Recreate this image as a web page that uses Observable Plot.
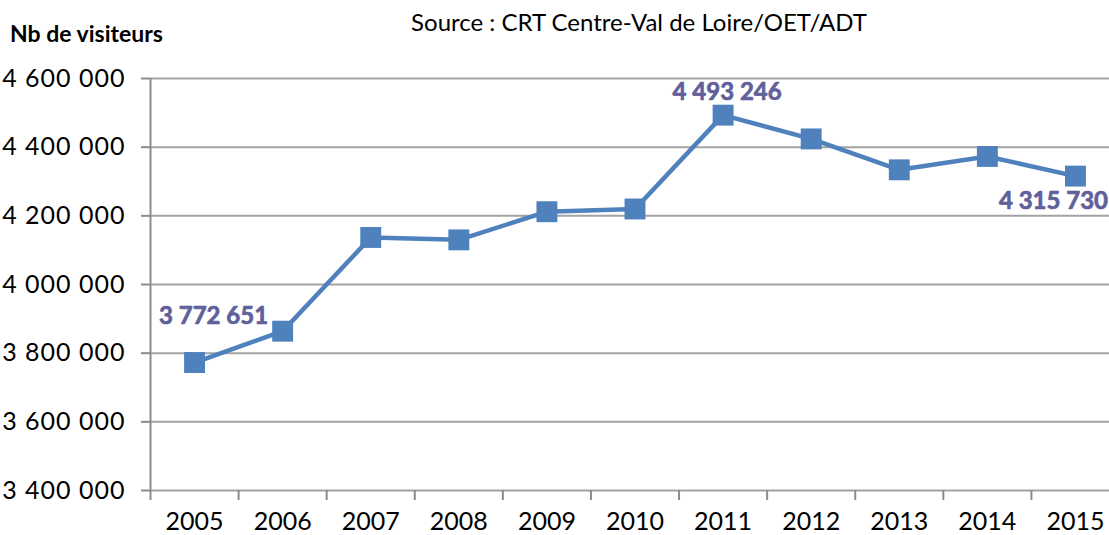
<!DOCTYPE html>
<html>
<head>
<meta charset="utf-8">
<script src="https://cdn.jsdelivr.net/npm/d3@7"></script>
<script src="https://cdn.jsdelivr.net/npm/@observablehq/plot@0.6"></script>
<style>
  html, body { margin: 0; padding: 0; background: #fff; overflow: hidden; width: 1109px; height: 535px; }
  #wrap { position: relative; width: 1109px; height: 535px; overflow: hidden; font-family: Lato, sans-serif; }
  #subtitle { position: absolute; top: 7px; left: 0; width: 1278px; text-align: center; font-size: 24px; color: #000; white-space: nowrap; }
  #ylabel { position: absolute; top: 19px; left: 10px; font-size: 23px; font-weight: bold; color: #000; white-space: nowrap; }
  #chart { position: absolute; top: 0; left: 0; width: 1130px; }
  #chart svg { max-width: none !important; }
  #chart svg g.yaxis text { letter-spacing: 1px; }
</style>
</head>
<body>
<div id="wrap">
  <div id="chart"></div>
  <div id="subtitle">Source : CRT Centre-Val de Loire/OET/ADT</div>
  <div id="ylabel">Nb de visiteurs</div>
</div>
<script>
const years = [2005, 2006, 2007, 2008, 2009, 2010, 2011, 2012, 2013, 2014, 2015];
const visitors = [3772651, 3864000, 4137000, 4130000, 4212000, 4220000, 4493246, 4424000, 4334000, 4373000, 4315730];
const yTicks = [3400000, 3600000, 3800000, 4000000, 4200000, 4400000, 4600000];
const labelFirst = [2005];
const labelPeak = [2011];
const labelLast = [2015];

const data = years.map((y, i) => ({year: y, value: visitors[i]}));
const boundaries = [years[0] - 0.5, ...years.map(y => y + 0.5)];
const fmt = v => d3.format(",")(v).replace(/,/g, "\u00a0");
const lbl = d => fmt(d.value);

const lineColor = "#4f81bd";
const labelColor = "#60609a";
const gridColor = "#a3a3a3";

const labelStyle = {fill: labelColor, stroke: labelColor, strokeWidth: 0.7, fontWeight: "bold", fontSize: 24, textAnchor: "middle", lineAnchor: "middle"};

const chart = Plot.plot({
  width: 1130,
  height: 535,
  marginLeft: 150,
  marginRight: 11,
  marginTop: 78,
  marginBottom: 45,
  style: {fontFamily: "Lato, sans-serif", fontSize: "24px", color: "#000", background: "transparent", overflow: "visible", maxWidth: "none"},
  x: {type: "linear", domain: [years[0] - 0.5, years[years.length - 1] + 0.5]},
  y: {domain: [yTicks[0], yTicks[yTicks.length - 1]]},
  marks: [
    Plot.gridY(yTicks, {stroke: gridColor, strokeOpacity: 1, strokeWidth: 2}),
    Plot.ruleX([boundaries[0]], {y1: yTicks[0], y2: yTicks[yTicks.length - 1], stroke: "#8c8c8c", strokeWidth: 2}),
    Plot.axisY({ticks: yTicks, tickSize: 9, tickPadding: 16, tickFormat: fmt, stroke: "#8c8c8c", strokeWidth: 2, fill: "#000", label: null, fontSize: 25, className: "yaxis"}),
    Plot.axisX({ticks: boundaries, tickSize: 10, tickFormat: () => "", stroke: "#8c8c8c", strokeWidth: 2, label: null}),
    Plot.axisX({ticks: years, tickSize: 0, tickPadding: 22, tickFormat: d => String(d), fill: "#000", label: null, fontSize: 25}),
    Plot.line(data, {x: "year", y: "value", stroke: lineColor, strokeWidth: 4.5}),
    Plot.dot(data, {x: "year", y: "value", symbol: "square", r: 11.8, fill: lineColor, stroke: "none"}),
    Plot.text(data.filter(d => labelFirst.includes(d.year)), {x: "year", y: "value", text: lbl, dx: 19, dy: -46, ...labelStyle}),
    Plot.text(data.filter(d => labelPeak.includes(d.year)), {x: "year", y: "value", text: lbl, dx: 4, dy: -23, ...labelStyle}),
    Plot.text(data.filter(d => labelLast.includes(d.year)), {x: "year", y: "value", text: lbl, dx: -22, dy: 25, ...labelStyle})
  ]
});
document.getElementById("chart").appendChild(chart);
</script>
</body>
</html>
